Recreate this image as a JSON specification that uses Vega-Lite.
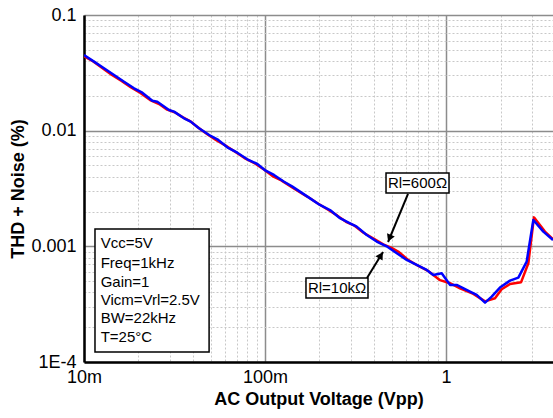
{
  "$schema": "https://vega.github.io/schema/vega-lite/v6.json",
  "width": 469,
  "height": 347,
  "autosize": {"type": "none"},
  "padding": {"left": 84, "top": 15, "right": 0, "bottom": 56},
  "background": "white",
  "config": {
    "font": "Liberation Sans",
    "view": {"stroke": null}
  },
  "datasets": {
    "curves": [
      {"series": "Rl=600", "x": 0.01, "y": 0.0440},
      {"series": "Rl=600", "x": 0.0112, "y": 0.0398},
      {"series": "Rl=600", "x": 0.0125, "y": 0.0352},
      {"series": "Rl=600", "x": 0.0142, "y": 0.0305},
      {"series": "Rl=600", "x": 0.0162, "y": 0.0268},
      {"series": "Rl=600", "x": 0.0182, "y": 0.0236},
      {"series": "Rl=600", "x": 0.0205, "y": 0.0212},
      {"series": "Rl=600", "x": 0.0232, "y": 0.0184},
      {"series": "Rl=600", "x": 0.026, "y": 0.0170},
      {"series": "Rl=600", "x": 0.0288, "y": 0.0152},
      {"series": "Rl=600", "x": 0.032, "y": 0.0143},
      {"series": "Rl=600", "x": 0.035, "y": 0.0131},
      {"series": "Rl=600", "x": 0.0385, "y": 0.0121},
      {"series": "Rl=600", "x": 0.0425, "y": 0.0107},
      {"series": "Rl=600", "x": 0.048, "y": 0.0093},
      {"series": "Rl=600", "x": 0.0535, "y": 0.0083},
      {"series": "Rl=600", "x": 0.06, "y": 0.0075},
      {"series": "Rl=600", "x": 0.068, "y": 0.0066},
      {"series": "Rl=600", "x": 0.077, "y": 0.0058},
      {"series": "Rl=600", "x": 0.088, "y": 0.0052},
      {"series": "Rl=600", "x": 0.1, "y": 0.00455},
      {"series": "Rl=600", "x": 0.11, "y": 0.00405},
      {"series": "Rl=600", "x": 0.123, "y": 0.00372},
      {"series": "Rl=600", "x": 0.14, "y": 0.00326},
      {"series": "Rl=600", "x": 0.155, "y": 0.00295},
      {"series": "Rl=600", "x": 0.172, "y": 0.00268},
      {"series": "Rl=600", "x": 0.195, "y": 0.00236},
      {"series": "Rl=600", "x": 0.222, "y": 0.00208},
      {"series": "Rl=600", "x": 0.25, "y": 0.00185},
      {"series": "Rl=600", "x": 0.28, "y": 0.00163},
      {"series": "Rl=600", "x": 0.31, "y": 0.00152},
      {"series": "Rl=600", "x": 0.35, "y": 0.00131},
      {"series": "Rl=600", "x": 0.4, "y": 0.00116},
      {"series": "Rl=600", "x": 0.45, "y": 0.00104},
      {"series": "Rl=600", "x": 0.5, "y": 0.00097},
      {"series": "Rl=600", "x": 0.55, "y": 0.00089},
      {"series": "Rl=600", "x": 0.62, "y": 0.00076},
      {"series": "Rl=600", "x": 0.7, "y": 0.00068},
      {"series": "Rl=600", "x": 0.8, "y": 0.00061},
      {"series": "Rl=600", "x": 0.927, "y": 0.00051},
      {"series": "Rl=600", "x": 1.052, "y": 0.00048},
      {"series": "Rl=600", "x": 1.195, "y": 0.000434},
      {"series": "Rl=600", "x": 1.416, "y": 0.000388},
      {"series": "Rl=600", "x": 1.643, "y": 0.000334},
      {"series": "Rl=600", "x": 1.865, "y": 0.000356},
      {"series": "Rl=600", "x": 2.03, "y": 0.000426},
      {"series": "Rl=600", "x": 2.257, "y": 0.000473},
      {"series": "Rl=600", "x": 2.6, "y": 0.00049},
      {"series": "Rl=600", "x": 2.85, "y": 0.000714},
      {"series": "Rl=600", "x": 3.06, "y": 0.00178},
      {"series": "Rl=600", "x": 3.52, "y": 0.00134},
      {"series": "Rl=600", "x": 3.9, "y": 0.00115},
      {"series": "Rl=10k", "x": 0.01, "y": 0.0451},
      {"series": "Rl=10k", "x": 0.01136, "y": 0.0395},
      {"series": "Rl=10k", "x": 0.0129, "y": 0.0346},
      {"series": "Rl=10k", "x": 0.01466, "y": 0.0303},
      {"series": "Rl=10k", "x": 0.01664, "y": 0.02652},
      {"series": "Rl=10k", "x": 0.0189, "y": 0.02323},
      {"series": "Rl=10k", "x": 0.021, "y": 0.0213},
      {"series": "Rl=10k", "x": 0.02385, "y": 0.01816},
      {"series": "Rl=10k", "x": 0.0254, "y": 0.0178},
      {"series": "Rl=10k", "x": 0.0295, "y": 0.0151},
      {"series": "Rl=10k", "x": 0.03143, "y": 0.0146},
      {"series": "Rl=10k", "x": 0.0357, "y": 0.0128},
      {"series": "Rl=10k", "x": 0.03886, "y": 0.01197},
      {"series": "Rl=10k", "x": 0.04318, "y": 0.0105},
      {"series": "Rl=10k", "x": 0.0501, "y": 0.009},
      {"series": "Rl=10k", "x": 0.05452, "y": 0.00842},
      {"series": "Rl=10k", "x": 0.0619, "y": 0.00718},
      {"series": "Rl=10k", "x": 0.0703, "y": 0.00645},
      {"series": "Rl=10k", "x": 0.0798, "y": 0.00566},
      {"series": "Rl=10k", "x": 0.0907, "y": 0.00515},
      {"series": "Rl=10k", "x": 0.1009, "y": 0.00451},
      {"series": "Rl=10k", "x": 0.1121, "y": 0.00414},
      {"series": "Rl=10k", "x": 0.1274, "y": 0.00362},
      {"series": "Rl=10k", "x": 0.141, "y": 0.0033},
      {"series": "Rl=10k", "x": 0.156, "y": 0.00297},
      {"series": "Rl=10k", "x": 0.1774, "y": 0.0026},
      {"series": "Rl=10k", "x": 0.201, "y": 0.00228},
      {"series": "Rl=10k", "x": 0.2286, "y": 0.00206},
      {"series": "Rl=10k", "x": 0.2597, "y": 0.00175},
      {"series": "Rl=10k", "x": 0.2948, "y": 0.00158},
      {"series": "Rl=10k", "x": 0.321, "y": 0.00148},
      {"series": "Rl=10k", "x": 0.3648, "y": 0.001255},
      {"series": "Rl=10k", "x": 0.414, "y": 0.0011},
      {"series": "Rl=10k", "x": 0.47, "y": 0.001},
      {"series": "Rl=10k", "x": 0.535, "y": 0.00087},
      {"series": "Rl=10k", "x": 0.6065, "y": 0.000763},
      {"series": "Rl=10k", "x": 0.689, "y": 0.00069},
      {"series": "Rl=10k", "x": 0.782, "y": 0.000625},
      {"series": "Rl=10k", "x": 0.851, "y": 0.000566},
      {"series": "Rl=10k", "x": 0.9465, "y": 0.000585},
      {"series": "Rl=10k", "x": 1.0, "y": 0.00052},
      {"series": "Rl=10k", "x": 1.052, "y": 0.000464},
      {"series": "Rl=10k", "x": 1.145, "y": 0.000464},
      {"series": "Rl=10k", "x": 1.357, "y": 0.000406},
      {"series": "Rl=10k", "x": 1.477, "y": 0.00038},
      {"series": "Rl=10k", "x": 1.643, "y": 0.000326},
      {"series": "Rl=10k", "x": 1.788, "y": 0.000367},
      {"series": "Rl=10k", "x": 1.986, "y": 0.00044},
      {"series": "Rl=10k", "x": 2.257, "y": 0.000505},
      {"series": "Rl=10k", "x": 2.51, "y": 0.000537},
      {"series": "Rl=10k", "x": 2.79, "y": 0.000738},
      {"series": "Rl=10k", "x": 3.037, "y": 0.00169},
      {"series": "Rl=10k", "x": 3.45, "y": 0.00134},
      {"series": "Rl=10k", "x": 3.9, "y": 0.001136}
    ],
    "boxes": [
      {"x": 0.0115, "x2": 0.0491, "y": 0.001414, "y2": 0.0001223},
      {"x": 0.4662, "x2": 1.039, "y": 0.00431, "y2": 0.00289},
      {"x": 0.1684, "x2": 0.3707, "y": 0.000533, "y2": 0.000358}
    ],
    "conditions": [
      {"x": 0.01236, "y": 0.00107, "label": "Vcc=5V"},
      {"x": 0.01236, "y": 0.000719, "label": "Freq=1kHz"},
      {"x": 0.01236, "y": 0.000492, "label": "Gain=1"},
      {"x": 0.01236, "y": 0.000344, "label": "Vicm=Vrl=2.5V"},
      {"x": 0.01236, "y": 0.00024, "label": "BW=22kHz"},
      {"x": 0.01236, "y": 0.000165, "label": "T=25°C"}
    ],
    "callouts": [
      {"x": 0.696, "y": 0.00353, "label": "Rl=600Ω"},
      {"x": 0.25, "y": 0.000437, "label": "Rl=10kΩ"}
    ],
    "arrows": [
      {"x": 0.6167, "y": 0.00284, "x2": 0.4783, "y2": 0.00109},
      {"x": 0.366, "y": 0.000533, "x2": 0.449, "y2": 0.000895}
    ]
  },
  "layer": [
    {
      "data": {"name": "curves"},
      "mark": {"type": "line", "strokeWidth": 2.5, "clip": true, "strokeJoin": "round"},
      "encoding": {
        "x": {
          "field": "x",
          "type": "quantitative",
          "scale": {"type": "log", "domain": [0.01, 3.9], "nice": false},
          "axis": {
            "title": "AC Output Voltage (Vpp)",
            "titleFont": "Liberation Sans",
            "titleFontSize": 18,
            "titleFontWeight": "bold",
            "titleColor": "black",
            "titlePadding": 4,
            "values": [0.01, 0.02, 0.03, 0.04, 0.05, 0.06, 0.07, 0.08, 0.09, 0.1, 0.2, 0.3, 0.4, 0.5, 0.6, 0.7, 0.8, 0.9, 1, 2, 3],
            "labelExpr": "datum.value == 0.01 ? '10m' : datum.value == 0.1 ? '100m' : datum.value == 1 ? '1' : ''",
            "labelFontSize": 18,
            "labelColor": "black",
            "labelPadding": 6,
            "labelFlush": false,
            "labelOverlap": false,
            "ticks": false,
            "domainColor": "black",
            "domainWidth": 2.5,
            "grid": true,
            "gridColor": {"condition": {"test": "indexof([0.01, 0.1, 1], datum.value) >= 0", "value": "#8c8c8c"}, "value": "#c8c8c8"},
            "gridDash": {"condition": {"test": "indexof([0.01, 0.1, 1], datum.value) >= 0", "value": []}, "value": [2, 2]},
            "gridWidth": {"condition": {"test": "indexof([0.01, 0.1, 1], datum.value) >= 0", "value": 1.5}, "value": 1}
          }
        },
        "y": {
          "field": "y",
          "type": "quantitative",
          "scale": {"type": "log", "domain": [0.0001, 0.1], "nice": false},
          "axis": {
            "title": "THD + Noise (%)",
            "titleFont": "Liberation Sans",
            "titleFontSize": 18,
            "titleFontWeight": "bold",
            "titleColor": "black",
            "titlePadding": 3,
            "values": [0.0001, 0.0002, 0.0003, 0.0004, 0.0005, 0.0006, 0.0007, 0.0008, 0.0009, 0.001, 0.002, 0.003, 0.004, 0.005, 0.006, 0.007, 0.008, 0.009, 0.01, 0.02, 0.03, 0.04, 0.05, 0.06, 0.07, 0.08, 0.09, 0.1],
            "labelExpr": "datum.value == 0.1 ? '0.1' : datum.value == 0.01 ? '0.01' : datum.value == 0.001 ? '0.001' : datum.value == 0.0001 ? '1E-4' : ''",
            "labelFontSize": 18,
            "labelColor": "black",
            "labelPadding": 8,
            "labelFlush": false,
            "labelOverlap": false,
            "ticks": false,
            "domainColor": "black",
            "domainWidth": 2.5,
            "grid": true,
            "gridColor": {"condition": {"test": "indexof([0.0001, 0.001, 0.01, 0.1], datum.value) >= 0", "value": "#8c8c8c"}, "value": "#c8c8c8"},
            "gridDash": {"condition": {"test": "indexof([0.0001, 0.001, 0.01, 0.1], datum.value) >= 0", "value": []}, "value": [2, 2]},
            "gridWidth": {"condition": {"test": "indexof([0.0001, 0.001, 0.01, 0.1], datum.value) >= 0", "value": 1.5}, "value": 1}
          }
        },
        "color": {
          "field": "series",
          "type": "nominal",
          "scale": {"domain": ["Rl=600", "Rl=10k"], "range": ["#ff0000", "#0000ff"]},
          "legend": null
        },
        "order": {"field": "x", "type": "quantitative"},
        "detail": {"field": "series"}
      }
    },
    {
      "mark": {"type": "rule", "color": "black", "strokeWidth": 2.5},
      "encoding": {"y": {"datum": 0.1}}
    },
    {
      "data": {"name": "boxes"},
      "mark": {"type": "rect", "fill": "white", "stroke": "black", "strokeWidth": 1.5},
      "encoding": {
        "x": {"field": "x", "type": "quantitative"},
        "x2": {"field": "x2"},
        "y": {"field": "y", "type": "quantitative"},
        "y2": {"field": "y2"}
      }
    },
    {
      "data": {"name": "conditions"},
      "mark": {"type": "text", "align": "left", "baseline": "middle", "fontSize": 15, "color": "black"},
      "encoding": {
        "x": {"field": "x", "type": "quantitative"},
        "y": {"field": "y", "type": "quantitative"},
        "text": {"field": "label"}
      }
    },
    {
      "data": {"name": "callouts"},
      "mark": {"type": "text", "align": "center", "baseline": "middle", "fontSize": 15, "color": "black"},
      "encoding": {
        "x": {"field": "x", "type": "quantitative"},
        "y": {"field": "y", "type": "quantitative"},
        "text": {"field": "label"}
      }
    },
    {
      "data": {"name": "arrows"},
      "mark": {"type": "rule", "color": "black", "strokeWidth": 2},
      "encoding": {
        "x": {"field": "x", "type": "quantitative"},
        "y": {"field": "y", "type": "quantitative"},
        "x2": {"field": "x2"},
        "y2": {"field": "y2"}
      }
    },
    {
      "data": {"values": [{"x": 0.4873, "y": 0.001175}]},
      "mark": {"type": "point", "shape": "triangle-up", "filled": true, "color": "black", "size": 70, "angle": 202.6, "opacity": 1},
      "encoding": {
        "x": {"field": "x", "type": "quantitative"},
        "y": {"field": "y", "type": "quantitative"}
      }
    },
    {
      "data": {"values": [{"x": 0.4368, "y": 0.000836}]},
      "mark": {"type": "point", "shape": "triangle-up", "filled": true, "color": "black", "size": 70, "angle": 31.6, "opacity": 1},
      "encoding": {
        "x": {"field": "x", "type": "quantitative"},
        "y": {"field": "y", "type": "quantitative"}
      }
    }
  ]
}
